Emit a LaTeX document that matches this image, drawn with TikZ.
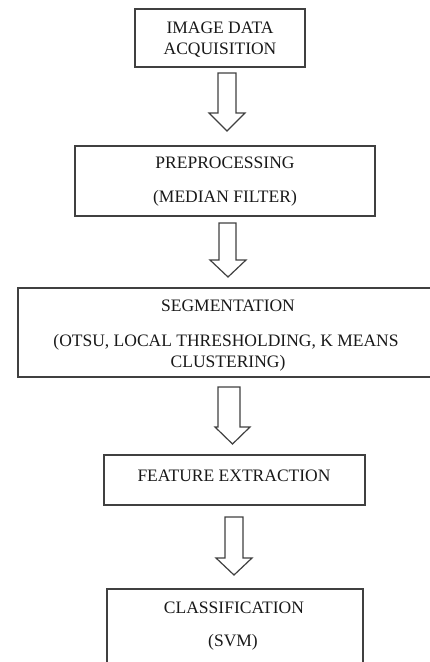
\documentclass[tikz,border=0pt]{standalone}
\usepackage{fontspec}
\setmainfont{Liberation Serif}
\begin{document}
\begin{tikzpicture}[x=1pt,y=-1pt,
  boxline/.style={draw=black!75,line width=1.4pt,fill=white,inner sep=0pt},
  txt/.style={anchor=base,inner sep=0pt,font=\fontsize{17.5}{20}\selectfont,text=black!90},
  blockarrow/.style={draw=black!75,line width=1.2pt,fill=white,line join=miter}]
\useasboundingbox (0,0) rectangle (430,662);
\clip (0,0) rectangle (430,662);
% boxes
\node[boxline,minimum width=170pt,minimum height=58pt] (b1) at (220,38) {};
\node[boxline,minimum width=300pt,minimum height=70pt] (b2) at (225,181) {};
\node[boxline,minimum width=427pt,minimum height=89pt] (b3) at (231.5,332.5) {};
\node[boxline,minimum width=261pt,minimum height=50pt] (b4) at (234.5,480) {};
\node[boxline,minimum width=256pt,minimum height=91pt] (b5) at (235,634.5) {};
% texts
\node[txt] (t1a) at (220,33) {IMAGE DATA};
\node[txt] (t1b) at (220,54) {ACQUISITION};
\node[txt] (t2a) at (225,168) {PREPROCESSING};
\node[txt] (t2b) at (225,202) {(MEDIAN FILTER)};
\node[txt] (t3a) at (228,311) {SEGMENTATION};
\node[txt] (t3b) at (226,346) {(OTSU, LOCAL THRESHOLDING, K MEANS};
\node[txt] (t3c) at (228,367) {CLUSTERING)};
\node[txt] (t4) at (234,481) {FEATURE EXTRACTION};
\node[txt] (t5a) at (234,613) {CLASSIFICATION};
\node[txt] (t5b) at (233,646) {(SVM)};
% block arrows: shaft left, shaft right, top, shaft bottom, head left, head right, tip
\newcommand{\myblockarrow}[7]{%
  \draw[blockarrow] (#1,#3) -- (#2,#3) -- (#2,#4) -- (#6,#4) -- ({(#5+#6)/2},#7) -- (#5,#4) -- (#1,#4) -- cycle;}
\myblockarrow{218}{236}{73}{113}{209}{245}{131}
\myblockarrow{219}{236}{223}{260}{210}{246}{277}
\myblockarrow{218}{240}{387}{427}{215}{250}{444}
\myblockarrow{225}{243}{517}{558}{216}{252}{575}
\end{tikzpicture}
\end{document}
